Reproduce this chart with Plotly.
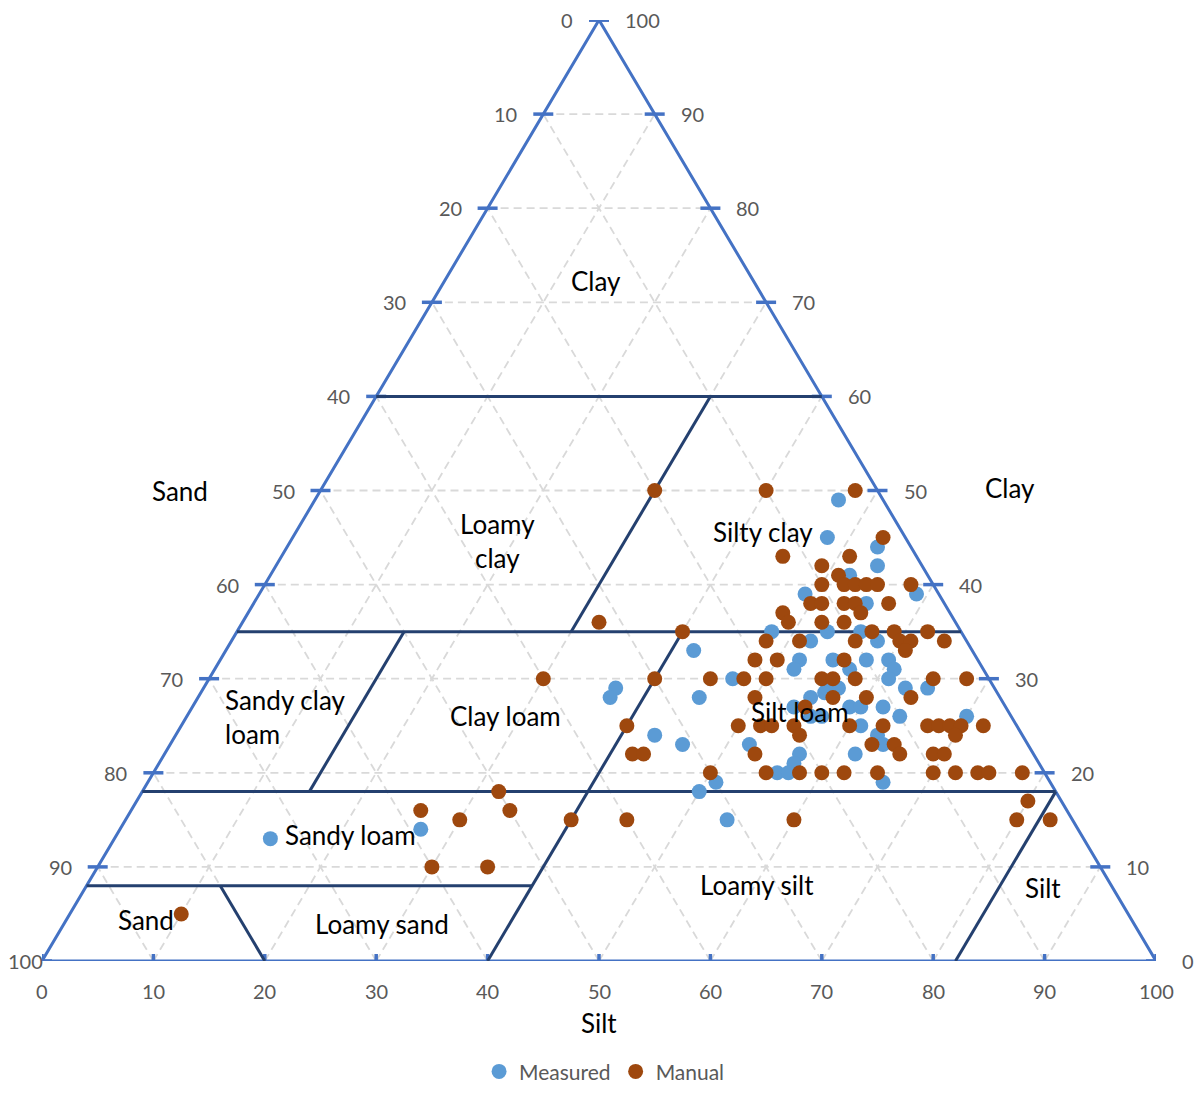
import plotly.graph_objects as go

# Soil texture samples in percent; sand = 100 - silt - clay
measured_silt = [47, 48, 53, 54, 52, 49, 55, 59, 48, 53, 56, 52, 58, 42, 52, 52, 55, 57, 58, 60,
                 61, 47, 61, 37, 37, 45, 55, 56, 56, 57, 63, 65, 54, 56, 59, 60, 62, 64, 70, 61,
                 63, 43, 46, 52, 64, 57, 62, 57, 56, 57, 66, 51, 50, 54, 27, 14, 57]
measured_clay = [49, 45, 44, 42, 41, 39, 38, 39, 35, 35, 35, 34, 34, 33, 32, 31, 32, 31, 32, 32,
                 31, 30, 30, 29, 28, 28, 28, 28.5, 29, 29, 29, 29, 27, 26, 27, 27, 27, 26, 26, 25,
                 24, 24, 23, 23, 23, 22, 22, 21, 20, 20, 19, 19, 18, 15, 14, 13, 26]

manual_silt = [30, 40, 48, 53, 45, 51, 49, 51, 50, 52, 53, 54, 55, 58, 50, 51, 53, 54, 57, 48,
               55, 49, 52, 54, 32, 40, 57, 59, 62, 48, 51, 56, 60, 61, 64, 61, 48, 50, 56, 30,
               40, 45, 48, 50, 55, 56, 58, 65, 68, 50, 57, 60, 64, 55, 40, 50, 52, 53, 55, 60,
               63, 67, 68, 69, 70, 72, 56, 70, 63, 65, 42, 43, 53, 66, 69, 70, 50, 55, 58, 60,
               62, 65, 70, 72, 74, 75, 78, 32, 80, 26, 34, 30, 40, 45, 60, 80, 83, 30, 35, 10]
manual_clay = [50, 50, 50, 45, 43, 43, 42, 41, 40, 40, 40, 40, 40, 40, 38, 38, 38, 38, 38, 37,
               37, 36, 36, 36, 36, 35, 35, 35, 35, 34, 34, 34, 34, 34, 34, 33, 32, 32, 32, 30,
               30, 30, 30, 30, 30, 30, 30, 30, 30, 28, 28, 28, 28, 27, 25, 25, 25, 25, 25, 25,
               25, 25, 25, 25, 25, 25, 24, 24, 23, 23, 22, 22, 22, 22, 22, 22, 20, 20, 20, 20,
               20, 20, 20, 20, 20, 20, 20, 18, 17, 16, 16, 15, 15, 15, 15, 15, 15, 10, 10, 5]

tick_values = list(range(0, 101, 10))

# Texture class boundaries as (silt, clay) polylines
class_boundaries = [
    [(0, 60), (40, 60)],
    [(30, 60), (30, 35)],
    [(0, 35), (65, 35)],
    [(15, 35), (15, 18)],
    [(40, 35), (40, 0)],
    [(0, 18), (82, 18)],
    [(0, 8), (40, 8)],
    [(12, 8), (20, 0)],
    [(82, 18), (82, 0)],
]

# Class names with anchor points given as (silt, clay)
class_names = [
    ("Clay", 13.6, 72.3, "center"),
    ("Loamy<br>clay", 18.6, 44.6, "center"),
    ("Silty clay", 41.9, 45.6, "center"),
    ("Sandy clay<br>loam", 3.3, 25.9, "left"),
    ("Clay loam", 28.6, 26.0, "center"),
    ("Silt loam", 54.8, 26.5, "center"),
    ("Sandy loam", 21.0, 13.4, "center"),
    ("Sand", 7.1, 4.4, "center"),
    ("Loamy sand", 28.6, 3.9, "center"),
    ("Loamy silt", 60.1, 8.1, "center"),
    ("Silt", 86.0, 7.8, "center"),
]


def to_xy(silt, clay):
    """Map a (silt, clay) composition onto the triangle's cartesian frame."""
    return silt + clay / 2.0, clay


def polyline_xy(segments):
    xs, ys = [], []
    for seg in segments:
        for s, c in seg:
            x, y = to_xy(s, c)
            xs.append(x)
            ys.append(y)
        xs.append(None)
        ys.append(None)
    return xs, ys


FONT = "Lato, Carlito, 'Open Sans', sans-serif"
EDGE = "#4472C4"
GRID = "#D9D9D9"
CLASS_LINE = "#24406F"
LABEL_GREY = "#595959"

fig = go.Figure()

# Dashed grid: constant clay, constant silt and constant sand lines
grid_segments = []
for k in range(10, 100, 10):
    grid_segments.append([(0, k), (100 - k, k)])          # clay = k
    grid_segments.append([(k, 0), (k, 100 - k)])          # silt = k
    grid_segments.append([(100 - k, 0), (0, 100 - k)])    # sand = k
gx, gy = polyline_xy(grid_segments)
fig.add_trace(go.Scatter(x=gx, y=gy, mode="lines", hoverinfo="skip", showlegend=False,
                         line=dict(color=GRID, width=1.8, dash="8px,5px")))

# Triangle outline
tx, ty = polyline_xy([[(0, 0), (100, 0), (0, 100), (0, 0)]])
fig.add_trace(go.Scatter(x=tx, y=ty, mode="lines", hoverinfo="skip", showlegend=False,
                         line=dict(color=EDGE, width=3)))

# Tick marks on the three sides
half_w = 10 / 11.14
half_h = 7 / 9.41
tick_x, tick_y = [], []
for k in tick_values:
    # left and right sides (horizontal dashes at clay = k)
    for xe in (k / 2.0, 100 - k / 2.0):
        tick_x += [xe - half_w, xe + half_w, None]
        tick_y += [k, k, None]
    # bottom side (vertical dashes at silt = k)
    tick_x += [k, k, None]
    tick_y += [-half_h, half_h, None]
fig.add_trace(go.Scatter(x=tick_x, y=tick_y, mode="lines", hoverinfo="skip", showlegend=False,
                         line=dict(color=EDGE, width=3.5)))

# Class boundaries
bx, by = polyline_xy(class_boundaries)
fig.add_trace(go.Scatter(x=bx, y=by, mode="lines", hoverinfo="skip", showlegend=False,
                         line=dict(color=CLASS_LINE, width=3)))

# Samples
mx = [s + c / 2.0 for s, c in zip(measured_silt, measured_clay)]
fig.add_trace(go.Scatter(x=mx, y=measured_clay, mode="markers", name="Measured",
                         marker=dict(color="#5B9BD5", size=15, line=dict(width=0))))
nx = [s + c / 2.0 for s, c in zip(manual_silt, manual_clay)]
fig.add_trace(go.Scatter(x=nx, y=manual_clay, mode="markers", name="Manual",
                         marker=dict(color="#9E480E", size=15, line=dict(width=0))))

annotations = []
# Left side labels (sand scale), right side labels (clay scale), bottom labels (silt scale)
for k in tick_values:
    clay = 100 - k
    annotations.append(dict(x=clay / 2.0, y=clay, text=str(k), showarrow=False,
                            xanchor="right", yanchor="middle",
                            xshift=3 if k == 100 else -24,
                            font=dict(size=20, color=LABEL_GREY)))
    annotations.append(dict(x=100 - k / 2.0, y=k, text=str(k), showarrow=False,
                            xanchor="left", yanchor="middle", xshift=24,
                            font=dict(size=20, color=LABEL_GREY)))
    annotations.append(dict(x=k, y=0, text=str(k), showarrow=False,
                            xanchor="center", yanchor="middle", yshift=-30,
                            font=dict(size=20, color=LABEL_GREY)))

for text, s, c, align in class_names:
    x, y = to_xy(s, c)
    annotations.append(dict(x=x, y=y, text=text, showarrow=False, align=align,
                            xanchor="left" if align == "left" else "center",
                            yanchor="middle",
                            font=dict(size=26, color="#000000")))

# Side titles
for text, x, y in [("Sand", 12.4, 49.9), ("Clay", 86.9, 50.3)]:
    annotations.append(dict(x=x, y=y, text=text, showarrow=False,
                            font=dict(size=26, color="#000000")))
annotations.append(dict(x=50, y=0, text="Silt", showarrow=False, yshift=-62,
                        font=dict(size=26, color="#000000")))

fig.update_layout(
    width=1198, height=1093,
    margin=dict(l=42, r=42, t=20, b=132, autoexpand=False),
    paper_bgcolor="white", plot_bgcolor="white",
    font=dict(family=FONT, color=LABEL_GREY),
    xaxis=dict(range=[0, 100], visible=False, fixedrange=True),
    yaxis=dict(range=[0, 100], visible=False, fixedrange=True),
    showlegend=True,
    legend=dict(orientation="h", x=0.505, xanchor="center", y=-0.1395, yanchor="bottom",
                font=dict(size=21, color=LABEL_GREY), itemsizing="trace",
                itemwidth=30, bgcolor="rgba(0,0,0,0)"),
    annotations=annotations,
)

fig.write_html("out.html")
